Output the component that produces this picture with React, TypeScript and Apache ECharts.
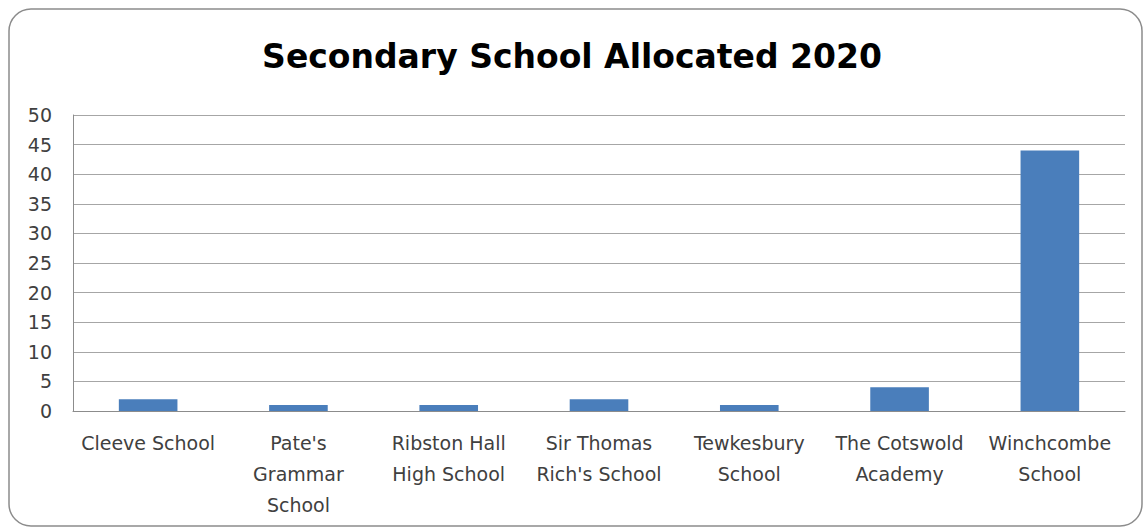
import React, { useEffect, useRef } from "react";
import * as echarts from "echarts";

// Pupils allocated to each secondary school in 2020
const categories: string[] = [
  "Cleeve School",
  "Pate's\nGrammar\nSchool",
  "Ribston Hall\nHigh School",
  "Sir Thomas\nRich's School",
  "Tewkesbury\nSchool",
  "The Cotswold\nAcademy",
  "Winchcombe\nSchool",
];
const allocated: number[] = [2, 1, 1, 2, 1, 4, 44];
const yTicks: number[] = [0, 5, 10, 15, 20, 25, 30, 35, 40, 45, 50];

const FONT = "'DejaVu Sans', 'Open Sans', sans-serif";

export default function App() {
  const ref = useRef<HTMLDivElement>(null);

  useEffect(() => {
    if (!ref.current) return;
    const chart = echarts.init(ref.current, undefined, { renderer: "svg" });
    chart.setOption({
      animation: false,
      backgroundColor: "#ffffff",
      title: {
        text: "Secondary School Allocated 2020",
        left: "center",
        top: 35,
        textStyle: {
          fontFamily: FONT,
          fontWeight: "bold",
          fontSize: 33,
          color: "#000000",
        },
      },
      graphic: [
        {
          type: "rect",
          shape: { x: 9, y: 9, width: 1133, height: 517, r: 22 },
          style: { fill: "none", stroke: "#8c8c8c", lineWidth: 1.5 },
          silent: true,
        },
      ],
      grid: { left: 73, right: 19, top: 115, bottom: 120, containLabel: false },
      xAxis: {
        type: "category",
        data: categories,
        axisLine: { show: true, lineStyle: { color: "#8c8c8c", width: 1 } },
        axisTick: { show: false },
        axisLabel: {
          interval: 0,
          margin: 16,
          fontFamily: FONT,
          fontSize: 19,
          lineHeight: 31,
          color: "#404040",
        },
      },
      yAxis: {
        type: "value",
        min: yTicks[0],
        max: yTicks[yTicks.length - 1],
        interval: yTicks[1] - yTicks[0],
        axisLine: { show: true, lineStyle: { color: "#8c8c8c", width: 1 } },
        axisTick: { show: false },
        splitLine: { show: true, lineStyle: { color: "#a6a6a6", width: 1 } },
        axisLabel: {
          margin: 21,
          fontFamily: FONT,
          fontSize: 19,
          color: "#404040",
        },
      },
      series: [
        {
          type: "bar",
          data: allocated,
          barWidth: "39%",
          itemStyle: { color: "#4a7ebb" },
        },
      ],
    });
    return () => chart.dispose();
  }, []);

  return (
    <div
      ref={ref}
      style={{ position: "absolute", left: 0, top: 0, width: 1144, height: 531 }}
    />
  );
}
